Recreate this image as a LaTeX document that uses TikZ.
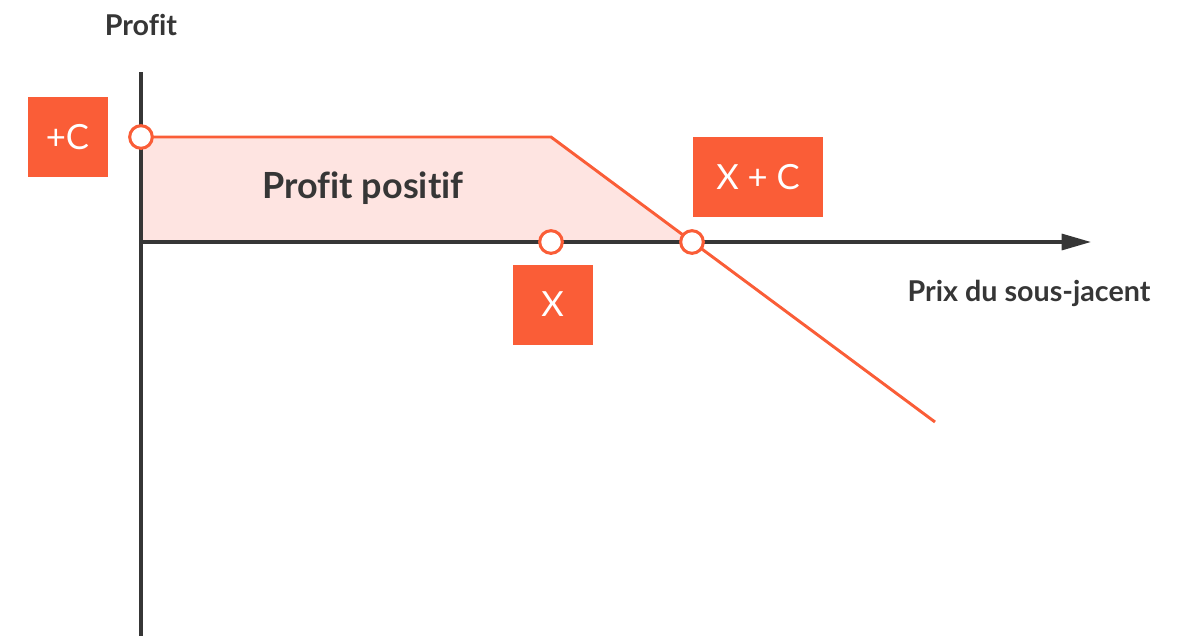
\documentclass[tikz,border=0pt]{standalone}
\usepackage{fontspec}
\setmainfont{Lato}[Ligatures=NoCommon]
\usetikzlibrary{arrows.meta}
\definecolor{accent}{HTML}{FA5D37}
\definecolor{ink}{HTML}{363636}
\definecolor{zone}{HTML}{FEE4E1}
\tikzset{
  axis/.style={draw=ink, line width=2.4pt},
  payoff/.style={draw=accent, line width=2.2pt},
  marker/.style={circle, draw=accent, fill=white, line width=2.3pt, minimum size=17pt, inner sep=0pt},
  tag/.style={fill=accent, text=white, inner sep=0pt, minimum height=60pt, font=\fontsize{26}{28}\selectfont},
  axislabel/.style={text=ink, font=\bfseries\fontsize{21.5}{24}\selectfont},
}
\begin{document}
\begin{tikzpicture}[x=0.75pt, y=-0.75pt]
  \useasboundingbox (0,0) rectangle (1179,636);
  % points of the payoff curve
  \coordinate (O) at (141,242);
  \coordinate (K) at (551,137);
  \coordinate (E) at (935,422);
  % profit zone
  \fill[zone] (141,137) -- (K) -- (692,242) -- (O) -- cycle;
  % axes
  \coordinate (ytop) at (141,72);
  \coordinate (ybot) at (141,636);
  \coordinate (xend) at (1091,242);
  \draw[axis] (ytop) -- (ybot);
  \draw[axis, -{Triangle[length=22pt, width=12pt]}] (O) -- (xend);
  % payoff line
  \draw[payoff] (141,137) -- (K) -- (E);
  % markers
  \node[marker] (mC) at (141,137) {};
  \node[marker] (mX) at (551,242) {};
  \node[marker] (mXC) at (692,242) {};
  % tags
  \node[tag, minimum width=60pt] (tC) at (67.5,137) {+C};
  \node[tag, minimum width=60pt] (tX) at (552.5,304.5) {X};
  \node[tag, minimum width=97.5pt] (tXC) at (758,177) {X + C};
  % labels
  \node[axislabel] (lp) at (141,25) {Profit};
  \node[axislabel] (lx) at (1029,293) {Prix du sous-jacent};
  \node[text=ink, font=\bfseries\fontsize{27}{30}\selectfont] (lz) at (363,188) {Profit positif};
\end{tikzpicture}
\end{document}
